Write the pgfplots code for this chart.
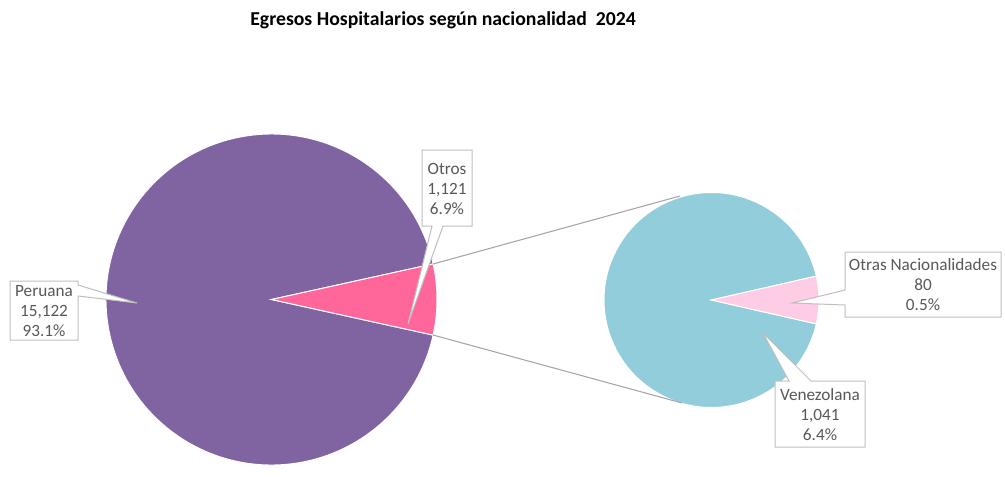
\documentclass[border=0pt]{standalone}
\usepackage{pgfplots}
\pgfplotsset{compat=1.18}
\usepackage{pgfplotstable}
\usepackage{fontspec}
\setmainfont{Carlito}
\definecolor{cPer}{HTML}{8064A2}
\definecolor{cOtros}{HTML}{FF6699}
\definecolor{cVen}{HTML}{92CDDC}
\definecolor{cOtN}{HTML}{FFCCE6}
\definecolor{boxline}{HTML}{BFBFBF}
\definecolor{lbl}{HTML}{595959}
\definecolor{conn}{HTML}{A6A6A6}

\pgfplotstableread{
name value
Peruana 15122
Otros 1121
}\maintable
\pgfplotstableread{
name value
Venezolana 1041
OtrasNacionalidades 80
}\subtable

\begin{document}
\begin{tikzpicture}
\pgfplotstablegetelem{0}{value}\of\maintable \pgfmathsetmacro\vPer{\pgfplotsretval}
\pgfplotstablegetelem{1}{value}\of\maintable \pgfmathsetmacro\vOtr{\pgfplotsretval}
\pgfplotstablegetelem{0}{value}\of\subtable \pgfmathsetmacro\vVen{\pgfplotsretval}
\pgfplotstablegetelem{1}{value}\of\subtable \pgfmathsetmacro\vOtN{\pgfplotsretval}
\pgfmathsetmacro\hA{\vOtr/(\vPer+\vOtr)*180}
\pgfmathsetmacro\hB{\vOtN/(\vVen+\vOtN)*180}
\pgfmathsetmacro\eA{360-\hA}
\pgfmathsetmacro\eB{360-\hB}
\pgfmathsetmacro\mhA{-\hA}
\pgfmathsetmacro\mhB{-\hB}
\begin{axis}[scale only axis, width=753.75pt, height=349.5pt,
  xmin=0, xmax=1005, ymin=0, ymax=466, y dir=reverse,
  hide axis, clip=false]
\path (axis cs:0,0) (axis cs:1005,466);
% main pie (centre 271.5,299.5; r = 165.5 px = 124.125pt)
\fill[cPer, draw=white, line width=0.75pt] (axis cs:271.5,299.5) -- ++(\hA:124.125pt)
   arc[start angle=\hA, end angle=\eA, radius=124.125pt] -- cycle;
\fill[cOtros, draw=white, line width=0.75pt] (axis cs:271.5,299.5) -- ++(\mhA:124.125pt)
   arc[start angle=\mhA, end angle=\hA, radius=124.125pt] -- cycle;
% second pie (centre 711.5,300; r = 107.5 px = 80.625pt)
\fill[cVen, draw=white, line width=0.75pt] (axis cs:711.5,300) -- ++(\hB:80.625pt)
   arc[start angle=\hB, end angle=\eB, radius=80.625pt] -- cycle;
\fill[cOtN, draw=white, line width=0.75pt] (axis cs:711.5,300) -- ++(\mhB:80.625pt)
   arc[start angle=\mhB, end angle=\hB, radius=80.625pt] -- cycle;
% connector lines
\draw[conn, line width=0.8pt] (axis cs:433,264) -- (axis cs:680,196);
\draw[conn, line width=0.8pt] (axis cs:433,335) -- (axis cs:682,403);
% callouts
\tikzset{callout/.style={draw=boxline, fill=white, line width=0.75pt, line join=miter}}
\path[callout] (axis cs:10,281) -- (axis cs:78,281) -- (axis cs:78,285) -- (axis cs:137,303)
   -- (axis cs:78,296) -- (axis cs:78,340) -- (axis cs:10,340) -- cycle;
\path[callout] (axis cs:422,150) -- (axis cs:472,150) -- (axis cs:472,226) -- (axis cs:443,226)
   -- (axis cs:408,324) -- (axis cs:432,226) -- (axis cs:422,226) -- cycle;
\path[callout] (axis cs:845,252) -- (axis cs:1001,252) -- (axis cs:1001,317) -- (axis cs:845,317)
   -- (axis cs:845,305) -- (axis cs:792,303) -- (axis cs:845,290) -- cycle;
\path[callout] (axis cs:775,381) -- (axis cs:789,381) -- (axis cs:763,333) -- (axis cs:811,381)
   -- (axis cs:865,381) -- (axis cs:865,447) -- (axis cs:775,447) -- cycle;
\tikzset{lab/.style={align=center, text=lbl, inner sep=0pt, font=\fontsize{12.9pt}{15pt}\selectfont}}
\node[lab] at (axis cs:44,311) {Peruana\\15,122\\93.1\%};
\node[lab] at (axis cs:447,189) {Otros\\1,121\\6.9\%};
\node[lab] at (axis cs:923,285) {Otras Nacionalidades\\80\\0.5\%};
\node[lab] at (axis cs:820,414.5) {Venezolana\\1,041\\6.4\%};
\node[inner sep=0pt, font=\fontsize{14.8pt}{17pt}\selectfont\bfseries] at (axis cs:443,20) {Egresos Hospitalarios según nacionalidad\ \ 2024};
\end{axis}
\end{tikzpicture}
\end{document}
